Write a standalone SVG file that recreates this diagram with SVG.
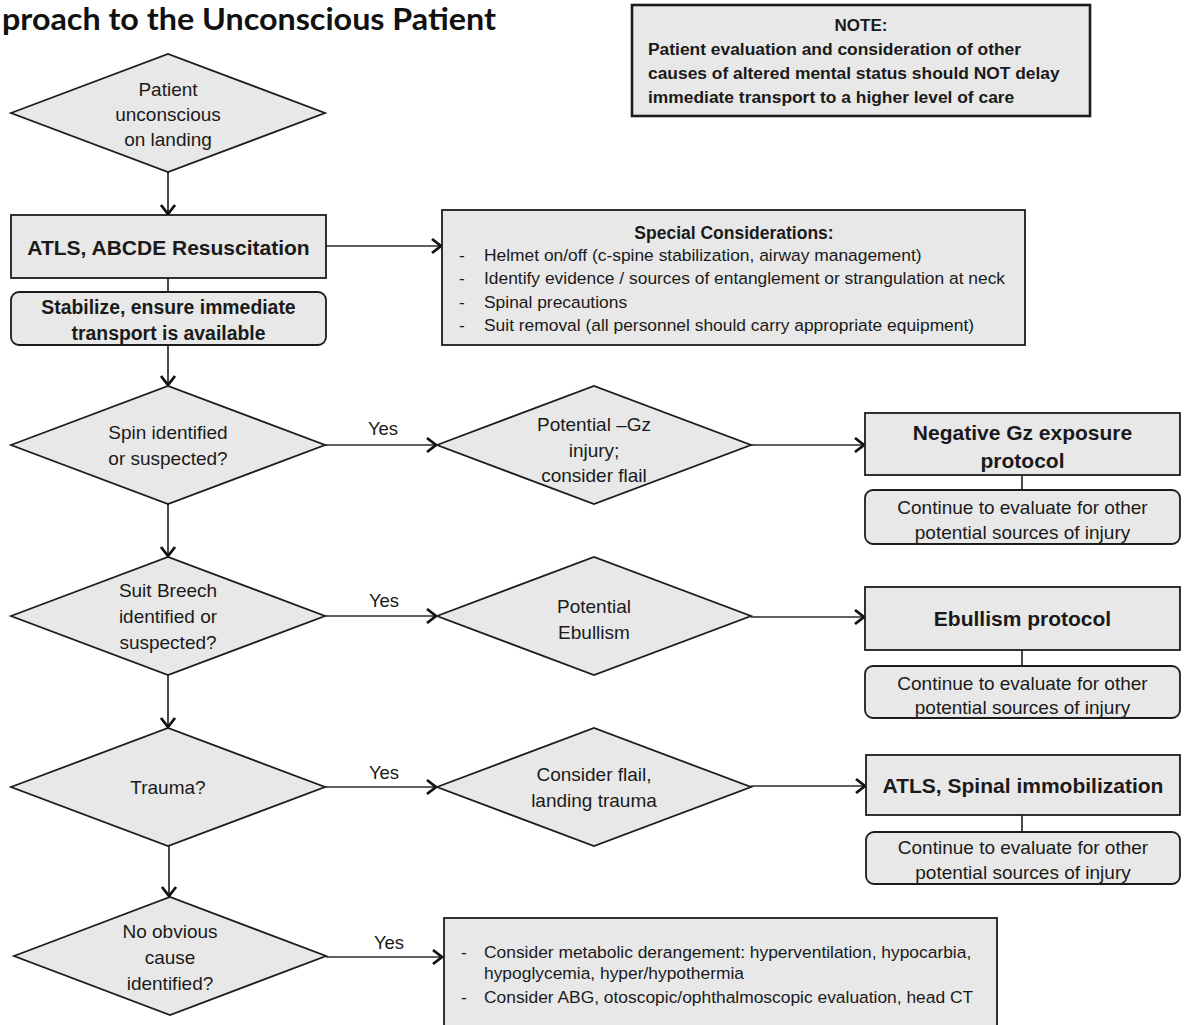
<svg xmlns="http://www.w3.org/2000/svg" width="1186" height="1025" viewBox="0 0 1186 1025">
  <style>
    .bg { fill: #ffffff; }
    .shape { fill: #e8e8e8; stroke: #1c1c1c; stroke-width: 1.8; }
    .thick { fill: #e8e8e8; stroke: #1c1c1c; stroke-width: 2.6; }
    .t { font-family: "Liberation Sans", Arial, sans-serif; fill: #1a1a1a; }
    .d { font-size: 19px; text-anchor: middle; }
    .b { font-weight: bold; text-anchor: middle; }
    .lst { font-size: 17.4px; }
    .lbl { font-size: 18.5px; text-anchor: middle; }
    .title { font-family: Lato, "Open Sans", sans-serif; font-weight: bold; font-size: 30px; fill: #111; }
    .conn line { stroke: #2a2a2a; stroke-width: 1.7; fill: none; }
  </style>
  <defs>
    <marker id="arr" markerUnits="userSpaceOnUse" markerWidth="20" markerHeight="20" viewBox="-12 -10 16 20" refX="0" refY="0" orient="auto" style="overflow:visible">
      <path d="M-9,-7 L0,0 L-9,7" fill="none" stroke="#111" stroke-width="2.8"/>
    </marker>
  </defs>

  <rect class="bg" x="0" y="0" width="1186" height="1025"/>

  <!-- heading -->
  <text class="title" x="2" y="30" textLength="494" lengthAdjust="spacingAndGlyphs">proach to the Unconscious Patient</text>

  <!-- note -->
  <g id="note">
    <rect class="thick" x="632" y="5" width="458" height="111"/>
    <text class="t b" x="861" y="31" font-size="17">NOTE:</text>
    <text class="t" x="648" y="55" font-size="17.4" font-weight="bold">Patient evaluation and consideration of other</text>
    <text class="t" x="648" y="79" font-size="17.4" font-weight="bold">causes of altered mental status should NOT delay</text>
    <text class="t" x="648" y="103" font-size="17.4" font-weight="bold">immediate transport to a higher level of care</text>
  </g>

  <!-- connectors -->
  <g id="connectors" class="conn">
    <line x1="168" y1="172" x2="168" y2="214" marker-end="url(#arr)"/>
    <line x1="168" y1="278" x2="168" y2="292"/>
    <line x1="326" y1="246" x2="441" y2="246" marker-end="url(#arr)"/>
    <line x1="168" y1="345" x2="168" y2="385" marker-end="url(#arr)"/>
    <line x1="325" y1="445" x2="436" y2="445" marker-end="url(#arr)"/>
    <line x1="751" y1="445" x2="864" y2="445" marker-end="url(#arr)"/>
    <line x1="1022" y1="475" x2="1022" y2="490"/>
    <line x1="168" y1="504" x2="168" y2="556" marker-end="url(#arr)"/>
    <line x1="325" y1="616" x2="436" y2="616" marker-end="url(#arr)"/>
    <line x1="751" y1="617" x2="864" y2="617" marker-end="url(#arr)"/>
    <line x1="1022" y1="650" x2="1022" y2="666"/>
    <line x1="168" y1="675" x2="168" y2="727" marker-end="url(#arr)"/>
    <line x1="325" y1="787" x2="436" y2="787" marker-end="url(#arr)"/>
    <line x1="751" y1="786" x2="865" y2="786" marker-end="url(#arr)"/>
    <line x1="1022" y1="815" x2="1022" y2="832"/>
    <line x1="169" y1="846" x2="169" y2="896" marker-end="url(#arr)"/>
    <line x1="326" y1="957" x2="442" y2="957" marker-end="url(#arr)"/>
  </g>

  <!-- edge labels -->
  <g id="labels">
    <text class="t lbl" x="383" y="435">Yes</text>
    <text class="t lbl" x="384" y="607">Yes</text>
    <text class="t lbl" x="384" y="779">Yes</text>
    <text class="t lbl" x="389" y="949">Yes</text>
  </g>

  <g id="start">
    <polygon class="shape" points="11,113 168,54 325,113 168,172"/>
    <text class="t d" x="168" y="96">Patient</text>
    <text class="t d" x="168" y="121">unconscious</text>
    <text class="t d" x="168" y="146">on landing</text>
  </g>

  <g id="atls">
    <rect class="shape" x="11" y="215" width="315" height="63"/>
    <text class="t b" x="168.5" y="255" font-size="21">ATLS, ABCDE Resuscitation</text>
  </g>

  <g id="stabilize">
    <rect class="shape" x="11" y="292" width="315" height="53" rx="8"/>
    <text class="t b" x="168.5" y="314" font-size="19.4">Stabilize, ensure immediate</text>
    <text class="t b" x="168.5" y="340" font-size="19.4">transport is available</text>
  </g>

  <g id="special">
    <rect class="shape" x="442" y="210" width="583" height="135"/>
    <text class="t b" x="734" y="239" font-size="17.5">Special Considerations:</text>
    <g class="t lst">
      <text x="459" y="261">-</text><text x="484" y="261">Helmet on/off (c-spine stabilization, airway management)</text>
      <text x="459" y="284">-</text><text x="484" y="284">Identify evidence / sources of entanglement or strangulation at neck</text>
      <text x="459" y="308">-</text><text x="484" y="308">Spinal precautions</text>
      <text x="459" y="331">-</text><text x="484" y="331">Suit removal (all personnel should carry appropriate equipment)</text>
    </g>
  </g>

  <g id="spin">
    <polygon class="shape" points="11,445 168,386 325,445 168,504"/>
    <text class="t d" x="168" y="439">Spin identified</text>
    <text class="t d" x="168" y="465">or suspected?</text>
  </g>

  <g id="negative-gz">
    <polygon class="shape" points="437,445 594,386 751,445 594,504"/>
    <text class="t d" x="594" y="431">Potential –Gz</text>
    <text class="t d" x="594" y="457">injury;</text>
    <text class="t d" x="594" y="482">consider flail</text>
  </g>

  <g id="gz-protocol">
    <rect class="shape" x="865" y="413" width="315" height="62"/>
    <text class="t b" x="1022.5" y="440" font-size="21">Negative Gz exposure</text>
    <text class="t b" x="1022.5" y="468" font-size="21">protocol</text>
  </g>

  <g id="gz-continue">
    <rect class="shape" x="865" y="490" width="315" height="54" rx="8"/>
    <text class="t d" x="1022.5" y="514">Continue to evaluate for other</text>
    <text class="t d" x="1022.5" y="539">potential sources of injury</text>
  </g>

  <g id="suit">
    <polygon class="shape" points="11,616 168,557 325,616 168,675"/>
    <text class="t d" x="168" y="597">Suit Breech</text>
    <text class="t d" x="168" y="623">identified or</text>
    <text class="t d" x="168" y="649">suspected?</text>
  </g>

  <g id="ebullism">
    <polygon class="shape" points="437,616 594,557 751,616 594,675"/>
    <text class="t d" x="594" y="613">Potential</text>
    <text class="t d" x="594" y="639">Ebullism</text>
  </g>

  <g id="ebullism-protocol">
    <rect class="shape" x="865" y="587" width="315" height="63"/>
    <text class="t b" x="1022.5" y="626" font-size="21">Ebullism protocol</text>
  </g>

  <g id="ebullism-continue">
    <rect class="shape" x="865" y="666" width="315" height="52" rx="8"/>
    <text class="t d" x="1022.5" y="690">Continue to evaluate for other</text>
    <text class="t d" x="1022.5" y="714">potential sources of injury</text>
  </g>

  <g id="trauma">
    <polygon class="shape" points="11,787 168,728 325,787 168,846"/>
    <text class="t d" x="168" y="794">Trauma?</text>
  </g>

  <g id="flail">
    <polygon class="shape" points="437,787 594,728 751,787 594,846"/>
    <text class="t d" x="594" y="781">Consider flail,</text>
    <text class="t d" x="594" y="807">landing trauma</text>
  </g>

  <g id="spinal">
    <rect class="shape" x="866" y="755" width="314" height="60"/>
    <text class="t b" x="1023" y="793" font-size="21">ATLS, Spinal immobilization</text>
  </g>

  <g id="spinal-continue">
    <rect class="shape" x="866" y="832" width="314" height="52" rx="8"/>
    <text class="t d" x="1023" y="854">Continue to evaluate for other</text>
    <text class="t d" x="1023" y="879">potential sources of injury</text>
  </g>

  <g id="no-cause">
    <polygon class="shape" points="14,956 170,897 326,956 170,1015"/>
    <text class="t d" x="170" y="938">No obvious</text>
    <text class="t d" x="170" y="964">cause</text>
    <text class="t d" x="170" y="990">identified?</text>
  </g>

  <g id="metabolic">
    <rect class="shape" x="444" y="918" width="553" height="125"/>
    <g class="t lst">
      <text x="461" y="958">-</text><text x="484" y="958">Consider metabolic derangement: hyperventilation, hypocarbia,</text>
      <text x="484" y="979">hypoglycemia, hyper/hypothermia</text>
      <text x="461" y="1003">-</text><text x="484" y="1003">Consider ABG, otoscopic/ophthalmoscopic evaluation, head CT</text>
    </g>
  </g>
</svg>
